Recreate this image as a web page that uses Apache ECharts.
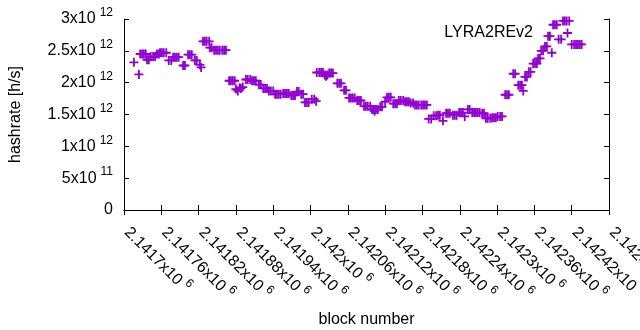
<!DOCTYPE html>
<html>
<head>
<meta charset="utf-8">
<script src="https://cdn.jsdelivr.net/npm/echarts@6/dist/echarts.min.js"></script>
<style>
  html, body { margin: 0; padding: 0; background: #fff; }
  #chart { width: 640px; height: 330px; }
</style>
</head>
<body>
<div id="chart"></div>
<script>
// block numbers are stored as offsets from BLOCK_BASE, hashrate in units of 1e12 h/s
const BLOCK_BASE = 2141700;
const blockOffsets = [
    16, 24, 26, 29, 32, 35, 37, 40, 43, 47, 50, 53, 56, 58, 61, 64, 68, 72, 76,
    79, 82, 85, 88, 95, 98, 103, 106, 109, 114, 117, 122, 124, 127, 130, 133, 137,
    138, 141, 145, 148, 151, 154, 158, 161, 164, 169, 172, 175, 178, 180, 183, 186,
    188, 191, 196, 199, 203, 206, 209, 212, 217, 220, 224, 227, 230, 233, 236, 240,
    243, 246, 249, 252, 256, 259, 262, 265, 269, 272, 275, 278, 281, 285, 288, 291,
    294, 297, 302, 306, 309, 310, 314, 317, 320, 323, 325, 327, 330, 333, 336, 343,
    346, 349, 354, 357, 362, 365, 368, 371, 375, 378, 381, 386, 389, 392, 396, 399,
    402, 403, 405, 408, 412, 415, 420, 423, 426, 429, 433, 436, 439, 442, 445, 449,
    452, 455, 458, 461, 465, 468, 471, 474, 478, 481, 484, 487, 490, 494, 498, 502,
    505, 508, 513, 518, 521, 524, 529, 532, 535, 539, 542, 545, 548, 553, 556, 560,
    563, 566, 569, 572, 576, 579, 582, 585, 589, 592, 595, 598, 601, 605, 608, 613,
    616, 619, 626, 629, 634, 637, 640, 642, 645, 648, 651, 654, 658, 661, 664, 666,
    669, 671, 674, 677, 680, 682, 685, 688, 690, 693, 696, 699, 703, 706, 709, 712,
    716, 720, 724, 727, 730, 733, 736
];
const hashrates = [
    2.32, 2.13, 2.45, 2.45, 2.45, 2.45, 2.36, 2.36, 2.41, 2.41, 2.41, 2.45, 2.45, 2.47, 2.47, 2.47, 2.47, 2.35, 2.35,
    2.40, 2.40, 2.40, 2.40, 2.27, 2.27, 2.44, 2.44, 2.44, 2.35, 2.35, 2.28, 2.24, 2.65, 2.65, 2.65, 2.65,
    2.55, 2.55, 2.51, 2.51, 2.51, 2.51, 2.51, 2.51, 2.51, 2.03, 2.03, 2.03, 2.03, 1.90, 1.87, 1.92,
    1.91, 1.93, 2.05, 2.05, 2.05, 2.03, 2.03, 2.03, 1.97, 1.97, 1.91, 1.91, 1.91, 1.87, 1.87, 1.87,
    1.82, 1.82, 1.82, 1.82, 1.83, 1.83, 1.83, 1.83, 1.80, 1.80, 1.80, 1.86, 1.86, 1.82, 1.82, 1.69,
    1.69, 1.69, 1.74, 1.74, 1.71, 2.16, 2.16, 2.16, 2.16, 2.12, 2.10, 2.12, 2.15, 2.15, 2.15, 1.99,
    1.99, 1.99, 1.88, 1.88, 1.76, 1.76, 1.76, 1.76, 1.72, 1.72, 1.72, 1.63, 1.63, 1.63, 1.63, 1.58,
    1.58, 1.55, 1.58, 1.58, 1.62, 1.62, 1.70, 1.77, 1.77, 1.77, 1.67, 1.67, 1.67, 1.72, 1.72, 1.72,
    1.70, 1.70, 1.70, 1.68, 1.68, 1.65, 1.65, 1.65, 1.65, 1.65, 1.65, 1.65, 1.43, 1.43, 1.48, 1.48,
    1.49, 1.49, 1.40, 1.52, 1.52, 1.52, 1.49, 1.49, 1.49, 1.53, 1.53, 1.53, 1.47, 1.58, 1.58, 1.53,
    1.53, 1.53, 1.53, 1.53, 1.52, 1.52, 1.44, 1.44, 1.44, 1.45, 1.45, 1.45, 1.47, 1.47, 1.47, 1.81,
    1.81, 1.81, 2.14, 2.14, 1.96, 1.96, 1.96, 1.87, 2.09, 2.09, 2.17, 2.17, 2.30, 2.30, 2.30, 2.38,
    2.38, 2.50, 2.50, 2.57, 2.57, 2.73, 2.73, 2.47, 2.91, 2.91, 2.91, 2.68, 2.68, 2.97, 2.97, 2.97,
    2.97, 2.60, 2.60, 2.60, 2.60, 2.60, 2.60
];
const seriesName = 'LYRA2REv2';

const PLUS = 'path://M4,0h2v4h4v2h-4v4h-2v-4h-4v-2h4z';
const FONT = 'Liberation Sans';
const points = blockOffsets.map((b, i) => [BLOCK_BASE + b, hashrates[i] * 1e12]);

function sciLabel(v) {
    if (v === 0) return '{m|0}';
    const e = Math.floor(Math.log10(v) + 1e-9);
    const m = parseFloat((v / Math.pow(10, e)).toFixed(6));
    return '{m|' + m + 'x10}{s|' + e + '}';
}

const rich = {
    m: { fontFamily: FONT, fontSize: 16, lineHeight: 16, color: '#000' },
    s: { fontFamily: FONT, fontSize: 12, lineHeight: 12, color: '#000', padding: [0, 0, 12, 4] },
};

const chart = echarts.init(document.getElementById('chart'), null, { renderer: 'canvas' });

const axisLine = { show: true, lineStyle: { color: '#000', width: 1 } };
const tick = { show: true, inside: true, length: 5, lineStyle: { color: '#000' } };

chart.setOption({
    animation: false,
    backgroundColor: '#fff',
    grid: { left: 124, right: 31, top: 19, bottom: 120, outerBoundsMode: 'none', containLabel: false },
    legend: {
        right: 63,
        top: 20,
        itemWidth: 9,
        itemHeight: 9,
        align: 'right',
        data: [{ name: seriesName, icon: PLUS }],
        textStyle: { fontFamily: FONT, fontSize: 16, color: '#000', padding: [0, 25, 0, 0] },
    },
    xAxis: [
        {
            type: 'value',
            min: 2141700,
            max: 2142480,
            interval: 60,
            name: 'block number',
            nameLocation: 'middle',
            nameGap: 100,
            nameTextStyle: { fontFamily: FONT, fontSize: 16, color: '#000' },
            axisLine: axisLine,
            axisTick: tick,
            splitLine: { show: false },
            axisLabel: {
                rotate: -45,
                margin: 17,
                padding: [0, 0, 0, 4],
                formatter: sciLabel,
                rich: rich,
            },
        },
        {
            type: 'value',
            position: 'top',
            min: 2141700,
            max: 2142480,
            interval: 60,
            axisLine: axisLine,
            axisTick: tick,
            axisLabel: { show: false },
            splitLine: { show: false },
        },
    ],
    yAxis: [
        {
            type: 'value',
            min: 0,
            max: 3e12,
            interval: 5e11,
            name: 'hashrate [h/s]',
            nameLocation: 'middle',
            nameGap: 100,
            nameTextStyle: { fontFamily: FONT, fontSize: 16, color: '#000' },
            axisLine: axisLine,
            axisTick: tick,
            splitLine: { show: false },
            axisLabel: { margin: 11, formatter: sciLabel, rich: rich },
        },
        {
            type: 'value',
            position: 'right',
            min: 0,
            max: 3e12,
            interval: 5e11,
            axisLine: axisLine,
            axisTick: tick,
            axisLabel: { show: false },
            splitLine: { show: false },
        },
    ],
    series: [
        {
            name: seriesName,
            type: 'scatter',
            data: points,
            symbol: PLUS,
            symbolSize: 9,
            itemStyle: { color: '#9400d3', opacity: 1 },
            emphasis: { disabled: true },
        },
    ],
});
</script>
</body>
</html>
